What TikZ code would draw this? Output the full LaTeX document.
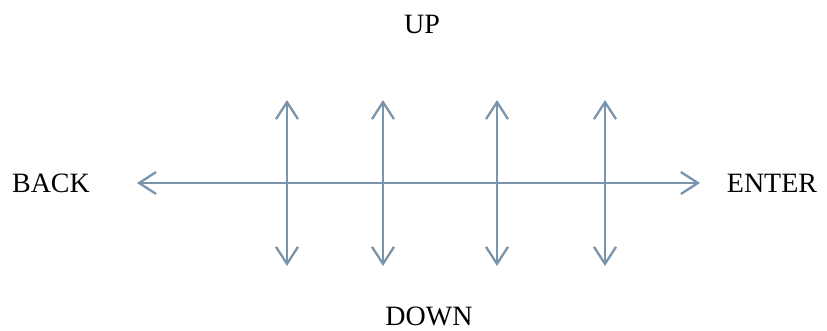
\documentclass[tikz,border=0pt]{standalone}
\usepackage{fontspec}
\setmainfont{Liberation Serif}
\usetikzlibrary{arrows.meta}
\definecolor{keyblue}{RGB}{122,148,174}
\begin{document}
\begin{tikzpicture}[x=1pt, y=-1pt]
	\tikzstyle{keylabel} = [inner sep=0pt, font=\fontsize{28}{32}\selectfont]
	\tikzstyle{keyarrow} = [draw=keyblue, line width=2.3pt,
	{Straight Barb[length=17pt, width=22pt, line width=2.3pt]}-{Straight Barb[length=17pt, width=22pt, line width=2.3pt]}]
	\useasboundingbox (0,0) rectangle (827,331);
	\node (up) [keylabel] at (422,24) {UP};
	\node (down) [keylabel] at (429,316) {DOWN};
	\node (back) [keylabel] at (51,183) {BACK};
	\node (enter) [keylabel] at (772,183) {ENTER};
	\coordinate (backEnd) at (137,183);
	\coordinate (enterEnd) at (700,183);
	\draw [keyarrow] (backEnd) -- (enterEnd);
	\foreach \name/\x in {a/287, b/383, c/497, d/605} {
		\coordinate (top\name) at (\x,100);
		\coordinate (bot\name) at (\x,266);
		\draw [keyarrow] (top\name) -- (bot\name);
	}
\end{tikzpicture}
\end{document}
